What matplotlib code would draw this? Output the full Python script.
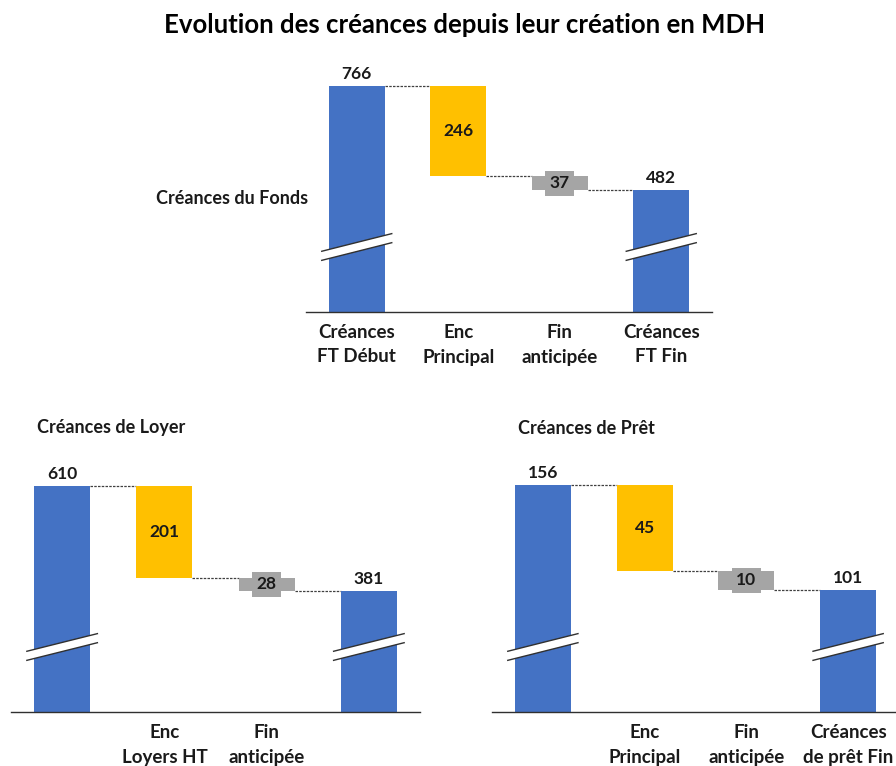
import matplotlib.pyplot as plt
from matplotlib.patches import Polygon
from matplotlib.lines import Line2D
import matplotlib.transforms as mtransforms

plt.rcParams['font.family'] = ['Lato', 'DejaVu Sans']
plt.rcParams['font.weight'] = 'bold'

# data
title = 'Evolution des créances depuis leur création en MDH'

fonds_name = 'Créances du Fonds'
fonds_labels = ['Créances\nFT Début', 'Enc\nPrincipal', 'Fin\nanticipée', 'Créances\nFT Fin']
fonds_values = [766, 246, 37, 482]

loyer_name = 'Créances de Loyer'
loyer_labels = ['', 'Enc\nLoyers HT', 'Fin\nanticipée', '']
loyer_values = [610, 201, 28, 381]

pret_name = 'Créances de Prêt'
pret_labels = ['', 'Enc\nPrincipal', 'Fin\nanticipée', 'Créances\nde prêt Fin']
pret_values = [156, 45, 10, 101]

BLUE = '#4472C4'
ORANGE = '#FFC000'
GRAY = '#A5A5A5'
TXT = '#1a1a1a'

W, H = 896, 766


def px_axes(fig, left, top, right, bottom):
	"""
	Add axes placed with pixel coordinates.
	"""
	return fig.add_axes([left / W, 1 - bottom / H, (right - left) / W, (bottom - top) / H])


def add_break(ax, xc):
	"""
	Draw the little 'axis cut' mark across a bar.
	"""
	trans = mtransforms.blended_transform_factory(ax.transData, ax.transAxes)
	x0, x1 = xc - 0.345, xc + 0.345
	y0, rise, gap = 0.205, 0.07, 0.036
	band = Polygon([[x0, y0], [x1, y0 + rise], [x1, y0 + rise + gap], [x0, y0 + gap]],
		closed=True, transform=trans, facecolor='white', edgecolor='none', zorder=4, clip_on=False)
	ax.add_patch(band)
	for yy in (y0, y0 + gap):
		ax.add_line(Line2D([x0, x1], [yy, yy + rise], transform=trans, color='#303030',
			lw=1.0, zorder=5, clip_on=False))


def waterfall(ax, values, labels, ymin, ymax):
	"""
	Draw a 4 step waterfall : start, two decreases, end.
	"""
	start, d1, d2, end = values
	x = [0, 1, 2, 3]
	w = 0.55
	bottoms = [0, start - d1, start - d1 - d2, 0]
	heights = [start, d1, d2, end]
	colors = [BLUE, ORANGE, GRAY, BLUE]
	ax.bar(x, heights, bottom=bottoms, width=w, color=colors, zorder=2)

	# dashed connectors
	levels = [start, start - d1, end]
	for i, lev in enumerate(levels):
		ax.plot([x[i] + w / 2, x[i + 1] - w / 2], [lev, lev], color='#404040',
			lw=0.9, ls=(0, (2, 1)), zorder=1)

	# value labels
	ax.annotate(str(start), (x[0], start), xytext=(0, 3), textcoords='offset points',
		ha='center', va='bottom', fontsize=12.5, color=TXT)
	ax.annotate(str(end), (x[3], end), xytext=(0, 3), textcoords='offset points',
		ha='center', va='bottom', fontsize=12.5, color=TXT)
	ax.text(x[1], start - d1 / 2, str(d1), ha='center', va='center', fontsize=12.5, color=TXT, zorder=3)
	ax.text(x[2], start - d1 - d2 / 2, str(d2), ha='center', va='center', fontsize=12.5, color=TXT,
		zorder=3, bbox=dict(boxstyle='square,pad=0.25', facecolor=GRAY, edgecolor='none'))

	add_break(ax, x[0])
	add_break(ax, x[3])

	ax.set_xlim(-0.5, 3.5)
	ax.set_ylim(ymin, ymax)
	ax.set_xticks(x)
	ax.set_xticklabels(labels, fontsize=13.5, color=TXT, linespacing=1.5)
	ax.tick_params(axis='x', length=0, pad=9)
	ax.set_yticks([])
	for side in ['top', 'right', 'left']:
		ax.spines[side].set_visible(False)
	ax.spines['bottom'].set_color('#303030')
	ax.spines['bottom'].set_linewidth(1.0)
	ax.spines['bottom'].set_zorder(6)


def main():
	fig = plt.figure(figsize=(W / 100, H / 100), dpi=100)

	fig.text(465 / W, 1 - 25 / H, title, ha='center', va='center', fontsize=18.5, color='black')

	ax1 = px_axes(fig, 306, 60, 712, 312)
	waterfall(ax1, fonds_values, fonds_labels, 150, 838)
	fig.text(156 / W, 1 - 199 / H, fonds_name, ha='left', va='center', fontsize=13, color=TXT)

	ax2 = px_axes(fig, 11, 460, 420, 712)
	waterfall(ax2, loyer_values, loyer_labels, 116, 667)
	fig.text(37 / W, 1 - 428 / H, loyer_name, ha='left', va='center', fontsize=13, color=TXT)

	ax3 = px_axes(fig, 492, 460, 899, 712)
	waterfall(ax3, pret_values, pret_labels, 37, 169)
	fig.text(518 / W, 1 - 428 / H, pret_name, ha='left', va='center', fontsize=13, color=TXT)

	fig.savefig('out.png', dpi=100)


if __name__ == '__main__':
	main()
